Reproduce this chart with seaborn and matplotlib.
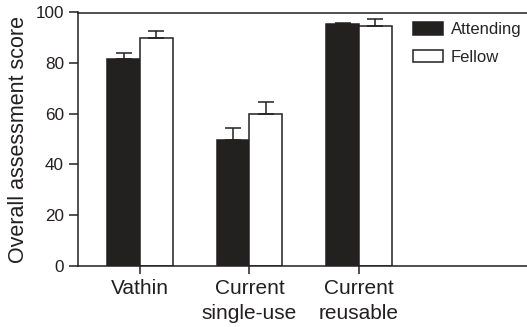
import matplotlib
matplotlib.use("Agg")
import matplotlib.pyplot as plt
import seaborn as sns
import pandas as pd

categories = ["Vathin", "Current\nsingle-use", "Current\nreusable"]
groups = ["Attending", "Fellow"]
attending = [81.8, 49.8, 95.3]
attending_err = [2.2, 4.7, 0.7]
fellow = [90.1, 60.1, 94.6]
fellow_err = [2.5, 4.7, 2.7]
yticks = [0, 20, 40, 60, 80, 100]

sns.set_theme(style="ticks")
plt.rcParams["font.family"] = ["Liberation Sans", "DejaVu Sans"]

df = pd.DataFrame({
    "category": categories * 2,
    "group": [groups[0]] * 3 + [groups[1]] * 3,
    "score": attending + fellow,
})
errs = {groups[0]: attending_err, groups[1]: fellow_err}

fig = plt.figure(figsize=(5.27, 3.27), dpi=100)
ax = fig.add_axes([78 / 527, 61.2 / 327, (527 - 78) / 527, (265.8 - 12.5) / 327])

sns.barplot(data=df, x="category", y="score", hue="group", hue_order=groups,
            order=categories, palette={"Attending": "#231f20", "Fellow": "white"},
            edgecolor="#231f20", linewidth=1.1, width=0.6, errorbar=None, ax=ax,
            legend=True)

for cont, g in zip(ax.containers, groups):
    xs = [p.get_x() + p.get_width() / 2 for p in cont.patches]
    hs = [p.get_height() for p in cont.patches]
    e = errs[g]
    ax.errorbar(xs, hs, yerr=[[0] * len(e), e], fmt="none", ecolor="#231f20",
                elinewidth=1.1, capsize=6, capthick=1.1, zorder=1)

ax.set_xlim(-0.566, 3.534)
ax.set_ylim(0, 100)
ax.set_yticks(yticks)
ax.set_xlabel("")
ax.set_ylabel("Overall assessment score", fontsize=15.5, color="#231f20", labelpad=5)
ax.tick_params(axis="y", labelsize=12.3, length=6.5, width=1.1, pad=3.5, colors="#231f20")
ax.tick_params(axis="x", labelsize=15, length=6, width=1.1, pad=3.5, colors="#231f20")
for t in ax.get_xticklabels():
    t.set_linespacing(1.38)
for s in ["left", "bottom", "top"]:
    ax.spines[s].set_linewidth(1.1)
    ax.spines[s].set_color("#231f20")
ax.spines["right"].set_visible(False)

handles, labels = ax.get_legend_handles_labels()
for h in handles:
    h.set_edgecolor("#231f20")
    h.set_linewidth(1.1)
ax.legend(handles, labels, loc="upper left", bbox_to_anchor=(413 / 527, 1 - 22 / 327),
          bbox_transform=fig.transFigure, frameon=False, fontsize=12,
          handlelength=1.8, handleheight=0.8, handletextpad=0.45,
          labelspacing=0.75, borderpad=0, borderaxespad=0)

fig.savefig("out.png", dpi=100)
